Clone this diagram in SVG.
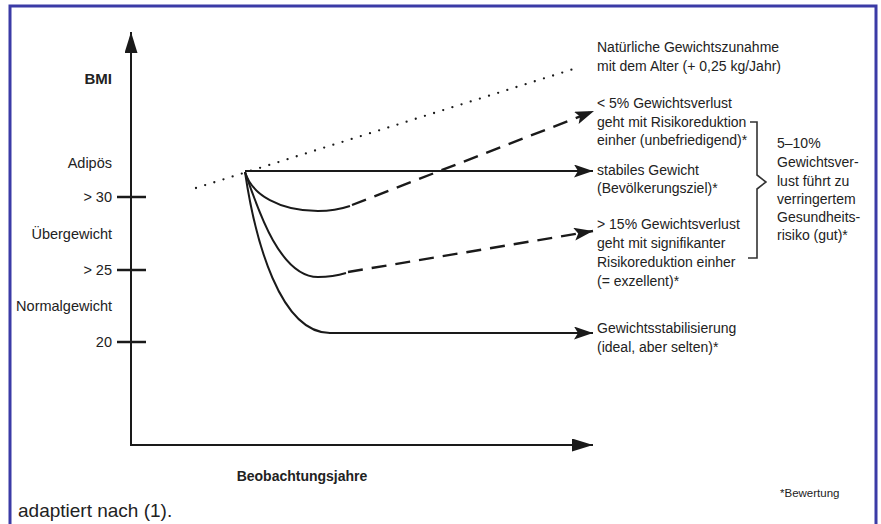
<svg xmlns="http://www.w3.org/2000/svg" width="881" height="524" viewBox="0 0 881 524">
<style>
.t{font-family:"Liberation Sans",Arial,sans-serif;font-size:14px;fill:#222}
.yl{font-size:14.5px}
.b{font-weight:bold}
.r{text-anchor:end}
.ln{fill:none;stroke:#1a1a1a;stroke-width:2}
.dash{fill:none;stroke:#1a1a1a;stroke-width:2.4;stroke-dasharray:15 9}
.tick{stroke:#1a1a1a;stroke-width:2.5}
</style>
<defs>
<marker id="ah" markerUnits="userSpaceOnUse" markerWidth="20" markerHeight="14" refX="19" refY="6.5" orient="auto">
<path d="M0,0 L19,6.5 L0,13 L4,6.5 Z" fill="#1a1a1a"/>
</marker>
<marker id="axh" markerUnits="userSpaceOnUse" markerWidth="22" markerHeight="14" refX="21" refY="6.5" orient="auto">
<path d="M0,0 L21,6.5 L0,13 Z" fill="#1a1a1a"/>
</marker>
</defs>
<rect width="881" height="524" fill="#fff"/>
<path d="M10,530 V6 H876 V530" fill="none" stroke="#3b3ba6" stroke-width="3"/>

<g id="axes">
<line x1="131" y1="445" x2="131" y2="32" class="ln" marker-end="url(#axh)"/>
<line x1="130" y1="445" x2="593" y2="445" class="ln" marker-end="url(#axh)"/>
<line x1="117" y1="197" x2="146" y2="197" class="tick"/>
<line x1="117" y1="270" x2="146" y2="270" class="tick"/>
<line x1="117" y1="342" x2="146" y2="342" class="tick"/>
</g>

<g id="y-labels">
<text x="112" y="84" class="t b r" style="font-size:15px">BMI</text>
<text x="112" y="168" class="t r yl">Adipös</text>
<text x="112" y="202" class="t r yl">&gt; 30</text>
<text x="112" y="239" class="t r yl">Übergewicht</text>
<text x="112" y="275" class="t r yl">&gt; 25</text>
<text x="112" y="311" class="t r yl">Normalgewicht</text>
<text x="112" y="347" class="t r yl">20</text>
</g>

<g id="connectors">
<line x1="196" y1="188" x2="580" y2="67" fill="none" stroke="#1a1a1a" stroke-width="2.3" stroke-linecap="round" stroke-dasharray="0 9.6"/>
<line x1="245" y1="171" x2="593" y2="171" class="ln" marker-end="url(#ah)"/>
<path d="M245,172 C252,195 280,211 318,211 Q335,211 350,206" class="ln"/>
<line x1="352" y1="205" x2="594" y2="111" class="dash" marker-end="url(#ah)"/>
<path d="M245,172 C258,210 280,277 318,277 Q333,277 346,273" class="ln"/>
<line x1="348" y1="272" x2="593" y2="231" class="dash" marker-end="url(#ah)"/>
<path d="M245,172 C255,240 280,333 330,333" class="ln"/>
<line x1="329" y1="333" x2="593" y2="333" class="ln" marker-end="url(#ah)"/>
<path d="M750,122 H757 V175 L766,182 L757,189 V258 H748" fill="none" stroke="#333" stroke-width="1.6"/>
</g>

<g id="n-natural">
<text x="597" y="52" class="t">Natürliche Gewichtszunahme</text>
<text x="597" y="71" class="t">mit dem Alter (+ 0,25 kg/Jahr)</text>
</g>
<g id="n-lt5">
<text x="597" y="108" class="t">&lt; 5% Gewichtsverlust</text>
<text x="597" y="127" class="t">geht mit Risikoreduktion</text>
<text x="597" y="145" class="t">einher (unbefriedigend)*</text>
</g>
<g id="n-stable">
<text x="597" y="175" class="t">stabiles Gewicht</text>
<text x="597" y="193" class="t">(Bevölkerungsziel)*</text>
</g>
<g id="n-gt15">
<text x="597" y="229" class="t">&gt; 15% Gewichtsverlust</text>
<text x="597" y="248" class="t">geht mit signifikanter</text>
<text x="597" y="267" class="t">Risikoreduktion einher</text>
<text x="597" y="286" class="t">(= exzellent)*</text>
</g>
<g id="n-ideal">
<text x="597" y="333" class="t">Gewichtsstabilisierung</text>
<text x="597" y="352" class="t">(ideal, aber selten)*</text>
</g>
<g id="n-bracket">
<text x="777" y="148" class="t">5–10%</text>
<text x="777" y="167" class="t">Gewichtsver-</text>
<text x="777" y="186" class="t">lust führt zu</text>
<text x="777" y="204" class="t">verringertem</text>
<text x="777" y="222" class="t">Gesundheits-</text>
<text x="777" y="240" class="t">risiko (gut)*</text>
</g>
<g id="footer">
<text x="302" y="481" class="t b" text-anchor="middle">Beobachtungsjahre</text>
<text x="780" y="497" class="t" style="font-size:11.5px">*Bewertung</text>
<text x="18" y="517" class="t" style="font-size:19px">adaptiert nach (1).</text>
</g>
</svg>
